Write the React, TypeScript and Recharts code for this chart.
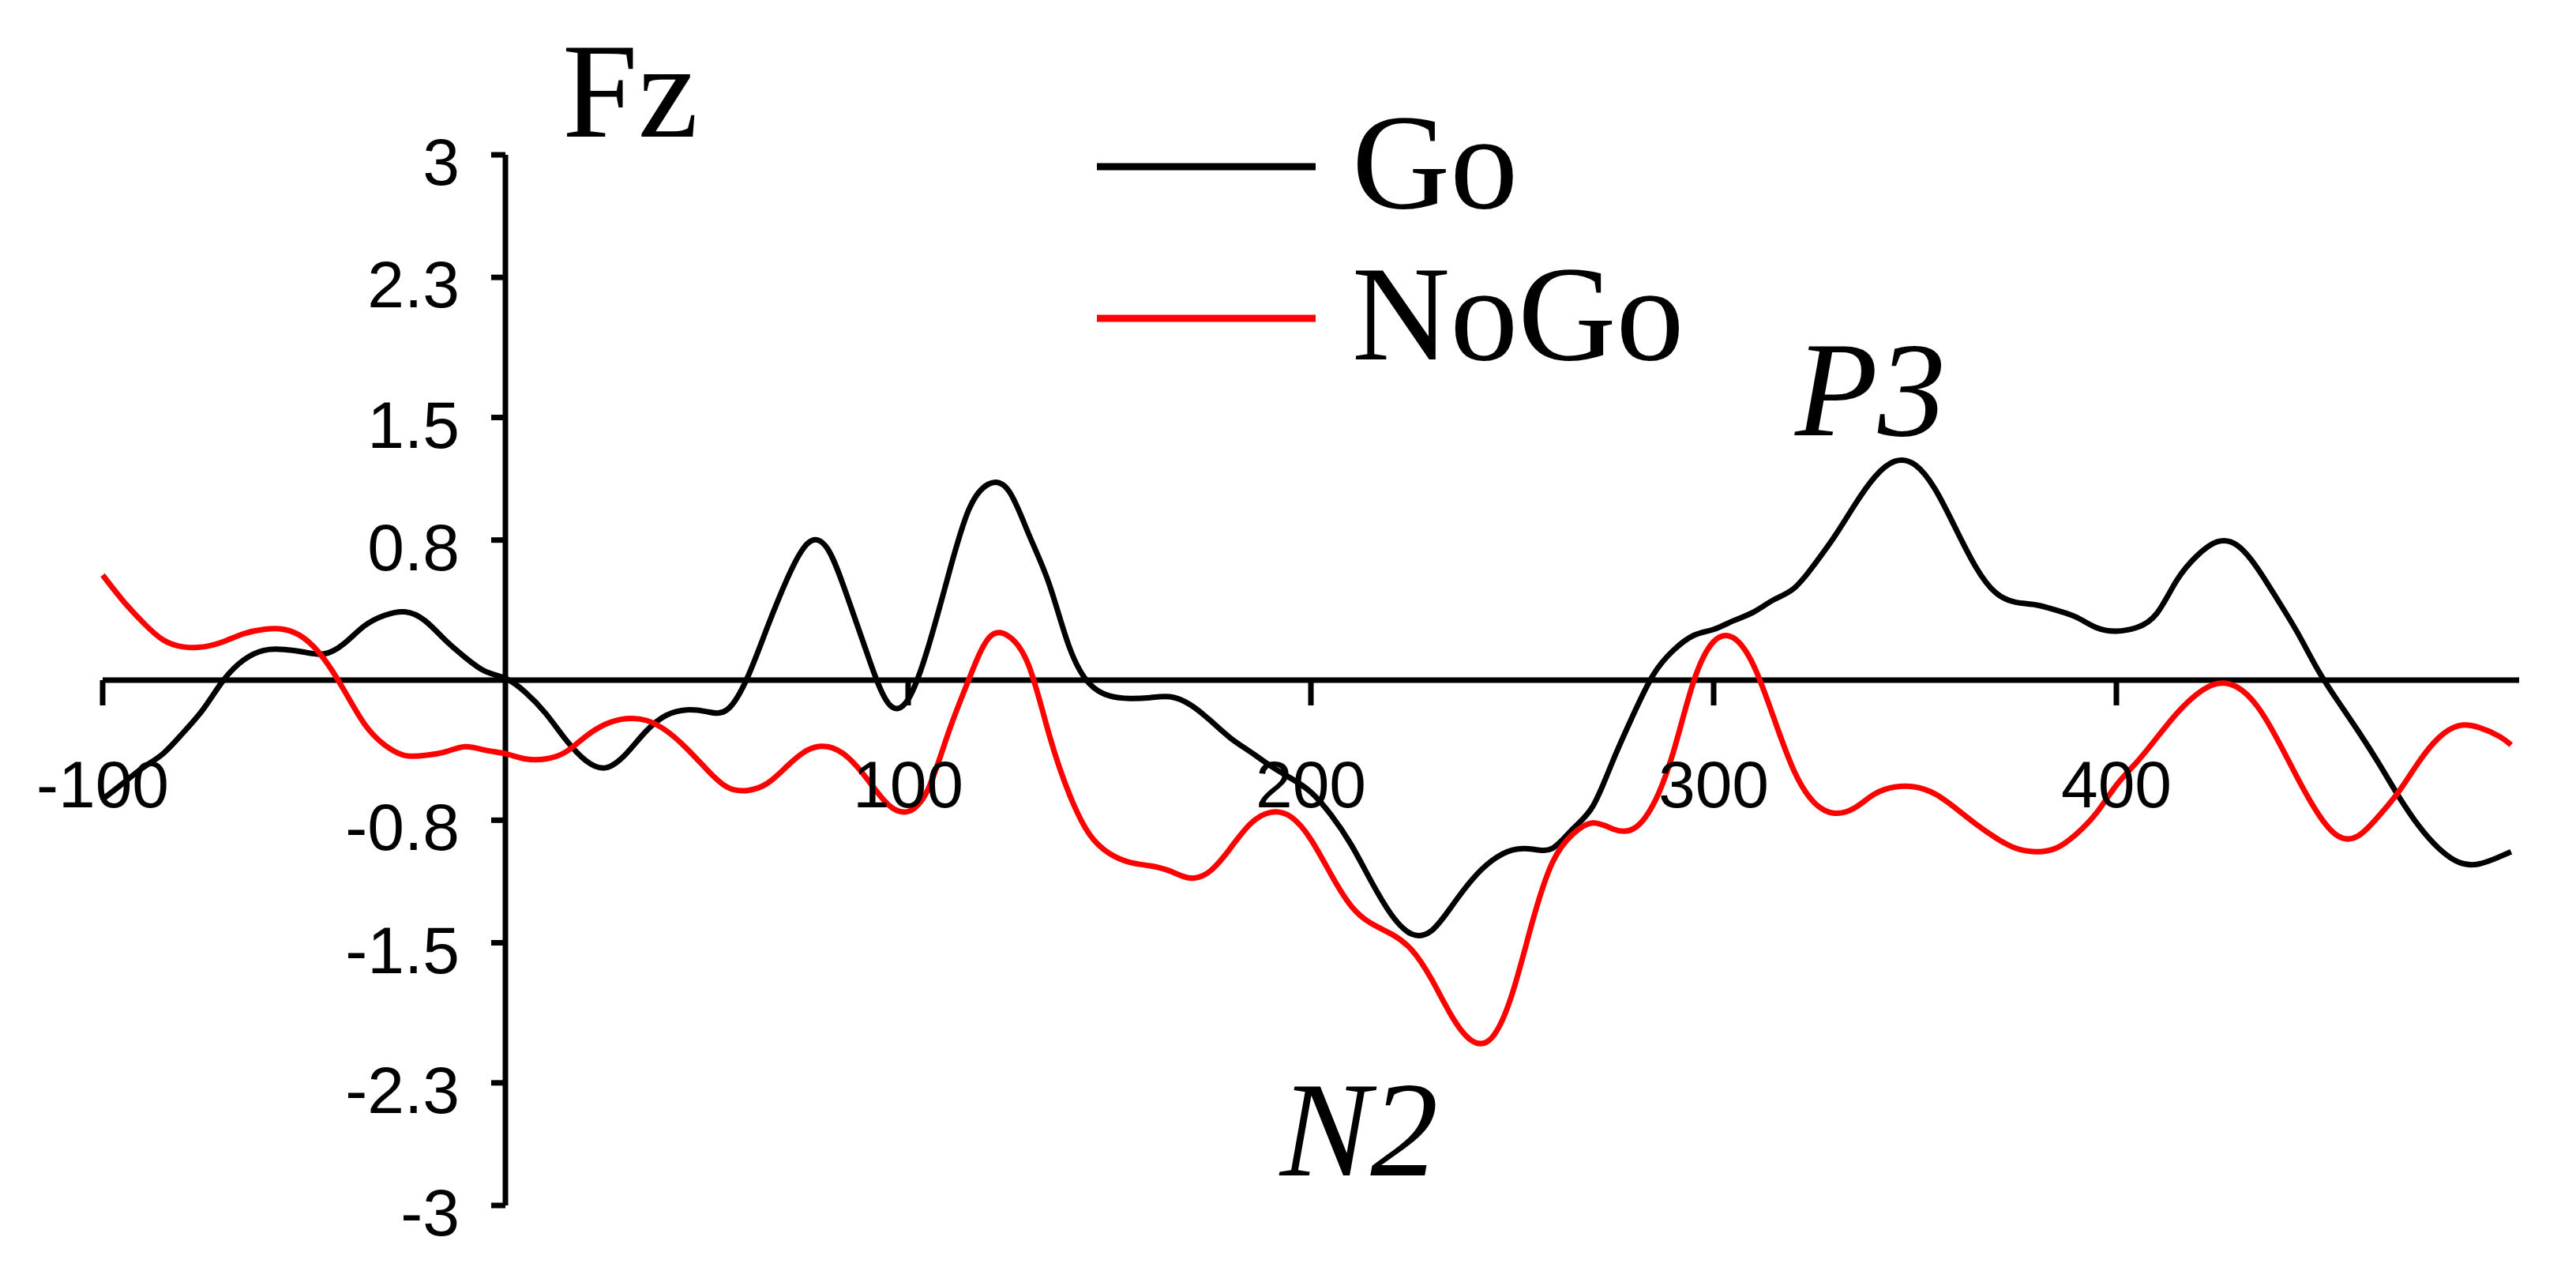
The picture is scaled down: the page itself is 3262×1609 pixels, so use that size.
import React from "react";
import {
  LineChart,
  Line,
  XAxis,
  YAxis,
  ReferenceLine,
  ReferenceDot,
  Legend,
} from "recharts";

// --- Data (ms vs µV) ---
const times = [
  -100, -95, -90, -85, -80, -75, -70, -65, -60, -55, -50, -45, -40, -35, -30, -25, -20, -15, -10, -5,
  0, 5, 10, 15, 20, 25, 30, 35, 40, 45, 50, 55, 60, 65, 70, 75, 80, 85, 90, 95,
  100, 105, 110, 115, 120, 125, 130, 135, 140, 145, 150, 155, 160, 165, 170, 175, 180, 185, 190, 195,
  200, 205, 210, 215, 220, 225, 230, 235, 240, 245, 250, 255, 260, 265, 270, 275, 280, 285, 290, 295,
  300, 305, 310, 315, 320, 325, 330, 335, 340, 345, 350, 355, 360, 365, 370, 375, 380, 385, 390, 395,
  400, 405, 410, 415, 420, 425, 430, 435, 440, 445, 450, 455, 460, 465, 470, 475, 480, 485, 490, 495,
  498,
];

const goValues = [
  -0.68, -0.59, -0.5, -0.42, -0.3, -0.165, 0.0, 0.115, 0.17, 0.175, 0.16, 0.15, 0.21, 0.31, 0.37, 0.39, 0.34, 0.23, 0.13, 0.05,
  0.01, -0.07, -0.19, -0.34, -0.46, -0.5, -0.42, -0.29, -0.2, -0.17, -0.18, -0.17, 0.01, 0.3, 0.58, 0.78, 0.75, 0.47, 0.14, -0.13,
  -0.11, 0.19, 0.6, 0.97, 1.12, 1.08, 0.83, 0.55, 0.19, -0.02, -0.09, -0.105, -0.1, -0.095, -0.14, -0.23, -0.33, -0.41, -0.49, -0.56,
  -0.64, -0.77, -0.94, -1.15, -1.34, -1.45, -1.43, -1.29, -1.14, -1.03, -0.97, -0.965, -0.96, -0.85, -0.72, -0.46, -0.2, 0.03, 0.17, 0.255,
  0.29, 0.34, 0.39, 0.46, 0.525, 0.66, 0.82, 1.0, 1.16, 1.25, 1.23, 1.09, 0.87, 0.65, 0.5, 0.445, 0.43, 0.4, 0.36, 0.3,
  0.28, 0.3, 0.38, 0.57, 0.71, 0.79, 0.77, 0.64, 0.46, 0.27, 0.06, -0.12, -0.29, -0.47, -0.66, -0.83, -0.96, -1.04, -1.05, -1.01,
  -0.98,
];

const nogoValues = [
  0.6, 0.455, 0.33, 0.23, 0.19, 0.19, 0.22, 0.265, 0.29, 0.29, 0.24, 0.12, -0.06, -0.25, -0.37, -0.43, -0.43, -0.41, -0.38, -0.4,
  -0.42, -0.45, -0.45, -0.41, -0.32, -0.25, -0.22, -0.23, -0.29, -0.39, -0.51, -0.61, -0.63, -0.59, -0.49, -0.4, -0.38, -0.44, -0.57, -0.71,
  -0.75, -0.62, -0.3, 0.0, 0.24, 0.25, 0.08, -0.31, -0.65, -0.88, -0.99, -1.04, -1.06, -1.09, -1.13, -1.09, -0.96, -0.82, -0.755, -0.78,
  -0.91, -1.11, -1.29, -1.39, -1.45, -1.54, -1.71, -1.92, -2.06, -2.04, -1.79, -1.38, -1.04, -0.88, -0.815, -0.85, -0.85, -0.71, -0.41, -0.01,
  0.22, 0.24, 0.08, -0.22, -0.52, -0.7, -0.76, -0.73, -0.65, -0.61, -0.61, -0.65, -0.73, -0.82, -0.9, -0.96, -0.98, -0.96, -0.88, -0.76,
  -0.6, -0.47, -0.33, -0.19, -0.08, -0.02, -0.04, -0.15, -0.34, -0.56, -0.76, -0.89, -0.89, -0.78, -0.64, -0.47, -0.33, -0.26, -0.27, -0.32,
  -0.37,
];

const xTicks = [-100, 100, 200, 300, 400];
const yTicks = [3, 2.3, 1.5, 0.8, -0.8, -1.5, -2.3, -3];
const seriesNames = ["Go", "NoGo"];
const seriesColors = ["#000000", "#ff0000"];
const channelName = "Fz";
const peakNames = ["P3", "N2"]; // P3 on Go maximum, N2 on NoGo minimum

const SANS = "'Liberation Sans', Arial, sans-serif";
const SERIF = "'Liberation Serif', 'Times New Roman', serif";
const TICK_FONT = 84;

export default function App() {
  const data = times.map((t, i) => ({
    t,
    [seriesNames[0]]: goValues[i],
    [seriesNames[1]]: nogoValues[i],
  }));

  // find the component peaks to hang the labels on
  const p3Idx = goValues.indexOf(Math.max(...goValues));
  const n2Idx = nogoValues.indexOf(Math.min(...nogoValues));

  const yTickShape = (label: string) => (props: any) => {
    const { cx, cy } = props;
    return (
      <g>
        <line x1={cx - 18} y1={cy} x2={cx} y2={cy} stroke="#000" strokeWidth={7} />
        <text x={cx - 58} y={cy + 38} textAnchor="end" fontSize={TICK_FONT} fontFamily={SANS} fill="#000">
          {label}
        </text>
      </g>
    );
  };

  const xTickShape = (label: string) => (props: any) => {
    const { cx, cy } = props;
    return (
      <g>
        <line x1={cx} y1={cy} x2={cx} y2={cy + 32} stroke="#000" strokeWidth={7} />
        <text x={cx} y={cy + 161} textAnchor="middle" fontSize={TICK_FONT} fontFamily={SANS} fill="#000">
          {label}
        </text>
      </g>
    );
  };

  const renderLegend = (props: any) => {
    const payload = props.payload || [];
    return (
      <svg width={900} height={420}>
        {payload.map((entry: any, i: number) => (
          <g key={entry.value}>
            <line
              x1={19}
              x2={296}
              y1={111 + i * 192}
              y2={111 + i * 192}
              stroke={entry.color}
              strokeWidth={9}
            />
            <text x={342} y={163 + i * 192} fontSize={172} fontFamily={SERIF} fill="#000">
              {entry.value}
            </text>
          </g>
        ))}
      </svg>
    );
  };

  return (
    <div style={{ position: "absolute", left: 0, top: 0, background: "#fff" }}>
      <LineChart
        width={3262}
        height={1609}
        data={data}
        margin={{ top: 196, right: 72, bottom: 83, left: 130 }}
      >
        <XAxis dataKey="t" type="number" domain={[-100, 500]} hide />
        <YAxis type="number" domain={[-3, 3]} hide />

        {/* axes crossing at the origin */}
        <ReferenceLine y={0} stroke="#000" strokeWidth={7} ifOverflow="visible" />
        <ReferenceLine x={0} stroke="#000" strokeWidth={7} ifOverflow="visible" />

        {yTicks.map((v) => (
          <ReferenceDot key={"y" + v} x={0} y={v} r={0} ifOverflow="visible" shape={yTickShape(String(v))} />
        ))}
        {xTicks.map((v) => (
          <ReferenceDot key={"x" + v} x={v} y={0} r={0} ifOverflow="visible" shape={xTickShape(String(v))} />
        ))}

        {/* channel title next to the top of the y axis */}
        <ReferenceDot
          x={0}
          y={3}
          r={0}
          ifOverflow="visible"
          shape={(p: any) => (
            <text x={p.cx + 72} y={p.cy - 23} fontSize={172} fontFamily={SERIF} fill="#000">
              {channelName}
            </text>
          )}
        />

        {/* vertical + center + middle keeps the legend from eating plot space */}
        <Legend
          layout="vertical"
          align="center"
          verticalAlign="middle"
          content={renderLegend}
          wrapperStyle={{ left: 1370, top: 100, width: 900, height: 420 }}
        />

        {seriesNames.map((name, i) => (
          <Line
            key={name}
            type="natural"
            dataKey={name}
            name={name}
            stroke={seriesColors[i]}
            strokeWidth={7}
            dot={false}
            activeDot={false}
            isAnimationActive={false}
          />
        ))}

        {/* component labels */}
        <ReferenceDot
          x={times[p3Idx]}
          y={goValues[p3Idx]}
          r={0}
          ifOverflow="visible"
          shape={(p: any) => (
            <text x={p.cx - 31} y={p.cy - 33} textAnchor="middle" fontSize={172} fontStyle="italic" fontFamily={SERIF} fill="#000">
              {peakNames[0]}
            </text>
          )}
        />
        <ReferenceDot
          x={times[n2Idx]}
          y={nogoValues[n2Idx]}
          r={0}
          ifOverflow="visible"
          shape={(p: any) => (
            <text x={p.cx - 143} y={p.cy + 170} textAnchor="middle" fontSize={172} fontStyle="italic" fontFamily={SERIF} fill="#000">
              {peakNames[1]}
            </text>
          )}
        />
      </LineChart>
    </div>
  );
}
